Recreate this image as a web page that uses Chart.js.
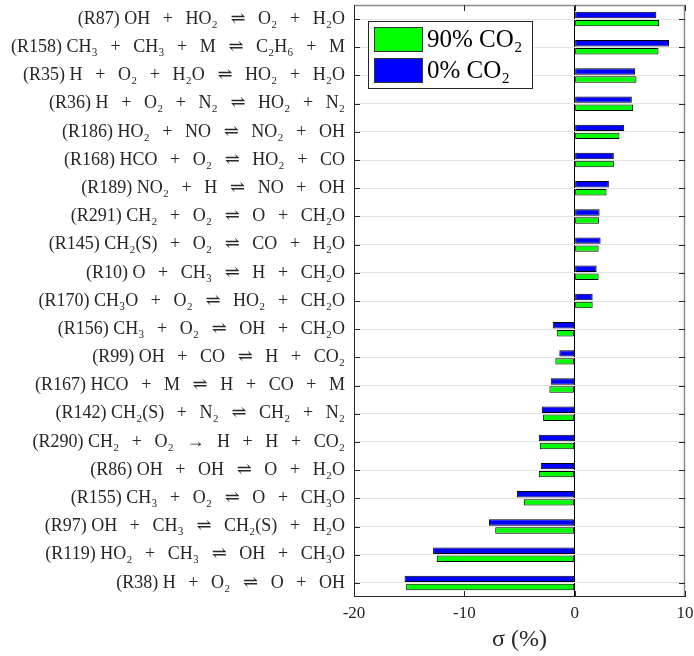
<!DOCTYPE html>
<html>
<head>
<meta charset="utf-8">
<script src="https://cdn.jsdelivr.net/npm/chart.js@4.4.1/dist/chart.umd.min.js"></script>
<style>
  html, body { margin: 0; padding: 0; background: #fff; }
  #wrap { width: 694px; height: 656px; }
</style>
</head>
<body>
<div id="wrap"><canvas id="sens-chart"></canvas></div>
<script>
const reactions = [
    "(R87) OH + HO₂ ⇌ O₂ + H₂O",
    "(R158) CH₃ + CH₃ + M ⇌ C₂H₆ + M",
    "(R35) H + O₂ + H₂O ⇌ HO₂ + H₂O",
    "(R36) H + O₂ + N₂ ⇌ HO₂ + N₂",
    "(R186) HO₂ + NO ⇌ NO₂ + OH",
    "(R168) HCO + O₂ ⇌ HO₂ + CO",
    "(R189) NO₂ + H ⇌ NO + OH",
    "(R291) CH₂ + O₂ ⇌ O + CH₂O",
    "(R145) CH₂(S) + O₂ ⇌ CO + H₂O",
    "(R10) O + CH₃ ⇌ H + CH₂O",
    "(R170) CH₃O + O₂ ⇌ HO₂ + CH₂O",
    "(R156) CH₃ + O₂ ⇌ OH + CH₂O",
    "(R99) OH + CO ⇌ H + CO₂",
    "(R167) HCO + M ⇌ H + CO + M",
    "(R142) CH₂(S) + N₂ ⇌ CH₂ + N₂",
    "(R290) CH₂ + O₂ → H + H + CO₂",
    "(R86) OH + OH ⇌ O + H₂O",
    "(R155) CH₃ + O₂ ⇌ O + CH₃O",
    "(R97) OH + CH₃ ⇌ CH₂(S) + H₂O",
    "(R119) HO₂ + CH₃ ⇌ OH + CH₃O",
    "(R38) H + O₂ ⇌ O + OH"
];

// sigma (%) for 0% CO2 and 90% CO2
const sigma0 = [7.4, 8.55, 5.48, 5.18, 4.49, 3.55, 3.1, 2.26, 2.35, 1.99, 1.63,
    -1.99, -1.39, -2.17, -2.98, -3.25, -3.07, -5.24, -7.77, -12.83, -15.42];
const sigma90 = [7.65, 7.6, 5.6, 5.3, 4.06, 3.55, 2.89, 2.2, 2.17, 2.17, 1.63,
    -1.63, -1.75, -2.29, -2.86, -3.16, -3.25, -4.61, -7.2, -12.5, -15.27];

const xTicks = [-20, -10, 0, 10];

const serif = "'Liberation Serif', 'DejaVu Serif', serif";

// wider, LaTeX-like space around the operators
function spaced(label) {
    return label.replace(/ ([+⇌→]) /g, '\u2002\u2009$1\u2009\u2002');
}

// MATLAB-ish box with inward ticks
const framePlugin = {
    id: 'frame',
    afterDatasetsDraw(chart) {
        const { ctx, chartArea: a, scales } = chart;
        ctx.save();
        ctx.lineWidth = 1.5;
        ctx.strokeStyle = '#8c8c8c';
        ctx.beginPath();
        ctx.moveTo(a.left, a.top + 0.5); ctx.lineTo(a.right, a.top + 0.5);
        ctx.moveTo(a.right - 0.5, a.top); ctx.lineTo(a.right - 0.5, a.bottom);
        ctx.stroke();
        ctx.lineWidth = 1;
        ctx.strokeStyle = '#262626';
        ctx.beginPath();
        ctx.moveTo(a.left + 0.5, a.top); ctx.lineTo(a.left + 0.5, a.bottom);
        ctx.moveTo(a.left, a.bottom - 0.5); ctx.lineTo(a.right, a.bottom - 0.5);
        ctx.stroke();
        ctx.beginPath();
        scales.y.ticks.forEach((t, i) => {
            const y = Math.round(scales.y.getPixelForTick(i)) + 0.5;
            ctx.moveTo(a.left, y); ctx.lineTo(a.left + 6, y);
            ctx.moveTo(a.right, y); ctx.lineTo(a.right - 6, y);
        });
        scales.x.ticks.forEach((t, i) => {
            const x = Math.round(scales.x.getPixelForTick(i)) + 0.5;
            ctx.moveTo(x, a.bottom); ctx.lineTo(x, a.bottom - 6);
            ctx.moveTo(x, a.top); ctx.lineTo(x, a.top + 6);
        });
        ctx.stroke();
        ctx.restore();
    }
};

// legend box inside the plot, upper left
const legendPlugin = {
    id: 'boxLegend',
    afterDraw(chart) {
        const { ctx } = chart;
        const order = [1, 0];
        const x0 = 368, y0 = 21, w = 164, h = 67;
        ctx.save();
        ctx.fillStyle = '#fff';
        ctx.fillRect(x0, y0, w, h);
        ctx.strokeStyle = '#262626';
        ctx.lineWidth = 1;
        ctx.strokeRect(x0 + 0.5, y0 + 0.5, w, h);
        order.forEach((di, k) => {
            const ds = chart.data.datasets[di];
            const y = y0 + 6 + k * 31;
            ctx.fillStyle = ds.backgroundColor;
            ctx.fillRect(374, y, 48, 24);
            ctx.strokeStyle = '#333';
            ctx.strokeRect(374.5, y + 0.5, 48, 24);
            ctx.fillStyle = '#000';
            ctx.font = "25px " + serif;
            ctx.textBaseline = 'middle';
            ctx.fillText(ds.label, 427, y + 13);
        });
        ctx.restore();
    }
};

new Chart(document.getElementById('sens-chart'), {
    type: 'bar',
    data: {
        labels: reactions,
        datasets: [
            { label: '0% CO₂', data: sigma0, backgroundColor: '#0000ff',
              borderColor: '#000', borderWidth: 1, borderSkipped: false },
            { label: '90% CO₂', data: sigma90, backgroundColor: '#00ff00',
              borderColor: '#000', borderWidth: 1, borderSkipped: false }
        ]
    },
    options: {
        indexAxis: 'y',
        responsive: true,
        maintainAspectRatio: false,
        animation: false,
        layout: { padding: { top: 5, right: 9, left: 0, bottom: 0 } },
        categoryPercentage: 0.57,
        barPercentage: 0.8,
        plugins: {
            legend: { display: false },
            tooltip: { enabled: false }
        },
        scales: {
            x: {
                min: -20,
                max: 10,
                afterBuildTicks(scale) {
                    scale.ticks = xTicks.map(v => ({ value: v }));
                },
                afterFit(scale) {
                    scale.height = 59;
                    scale.paddingLeft = 0;
                    scale.paddingRight = 0;
                },
                border: { display: false },
                grid: {
                    drawTicks: false,
                    color: ctx => ctx.tick && ctx.tick.value === 0 ? '#000' : 'rgba(0,0,0,0)'
                },
                ticks: {
                    color: '#262626',
                    padding: 6,
                    font: { family: serif, size: 17 }
                },
                title: {
                    display: true,
                    text: 'σ (%)',
                    color: '#262626',
                    padding: { top: 0, bottom: 2 },
                    font: { family: serif, size: 24 }
                }
            },
            y: {
                afterFit(scale) {
                    scale.width = 354;
                    scale.paddingTop = 0;
                    scale.paddingBottom = 0;
                },
                border: { display: false },
                grid: {
                    offset: false,
                    drawTicks: false,
                    color: '#e3e3e3'
                },
                ticks: {
                    color: '#262626',
                    padding: 9,
                    autoSkip: false,
                    font: { family: serif, size: 18 },
                    callback(value) { return spaced(this.getLabelForValue(value)); }
                }
            }
        }
    },
    plugins: [framePlugin, legendPlugin]
});
</script>
</body>
</html>
